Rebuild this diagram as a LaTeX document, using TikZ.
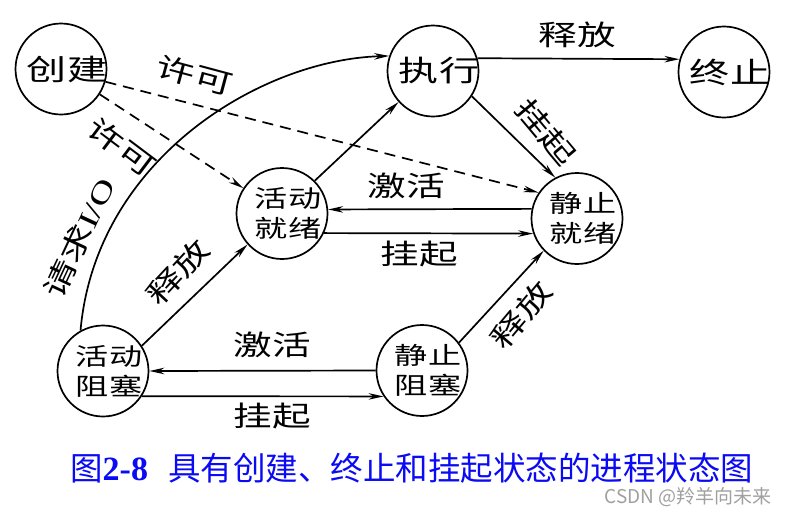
\documentclass[tikz,border=0pt]{standalone}
\usepackage{fontspec}
\setmainfont{Noto Sans CJK SC}
\newfontfamily\tnr{Liberation Serif}
\usetikzlibrary{arrows.meta}
\definecolor{capblue}{RGB}{10,10,245}
\definecolor{wmgray}{RGB}{160,160,160}
\newcommand{\wx}[1]{\scalebox{1.38}[1]{#1}}
\newcommand{\ct}[1]{\makebox[0pt]{\hspace*{12pt}\scalebox{1.38}[1]{#1}}}
\begin{document}
\begin{tikzpicture}[x=1pt,y=-1pt,
  state/.style={draw, circle, line width=1.7pt, minimum size=91pt, inner sep=0pt, align=center},
  big/.style={font=\fontsize{29}{30}\selectfont},
  small/.style={font=\fontsize{24}{30}\selectfont},
  lab/.style={font=\fontsize{28}{30}\selectfont, inner sep=0pt},
  arr/.style={line width=1.7pt, -{Stealth[length=15pt,width=6.5pt]}},
  dashln/.style={dash pattern=on 11pt off 7pt}
]
\useasboundingbox[fill=white] (0,0) rectangle (788,515);

% states
\node[state,big]   (cj) at (61,69)      {\ct{创建}};
\node[state,big]   (ex) at (433,71)     {\ct{执行}};
\node[state,big]   (zz) at (724,72)     {\ct{终止}};
\node[state,small] (hj) at (282,213.5)  {\ct{活动}\\\ct{就绪}};
\node[state,small] (jj) at (577,218.5)  {\ct{静止}\\\ct{就绪}};
\node[state,small] (hz) at (103,371)    {\ct{活动}\\\ct{阻塞}};
\node[state,small] (jz) at (422,370.5)  {\ct{静止}\\\ct{阻塞}};

% connectors
\draw[arr,dashln] (cj) -- (hj);
\draw[arr,dashln] (cj.-16) -- (jj.146);
\draw[arr] (ex.16) -- (zz.164);
\draw[arr] (ex.-33) -- (jj.118);
\draw[arr] (hj.45) -- (ex.222);
\draw[arr] (jj.168) -- (hj.5.7);
\draw[arr] (hj.-25.4) -- (jj.-161.4);
\draw[arr] (hz.33.7) -- (hj.222.6);
\draw[arr] (jz.180) -- (hz.0);
\draw[arr] (hz.-33) -- (jz.214);
\draw[arr] (jz.37.4) -- (jj.224.6);
\draw[arr] (hz.119) .. controls +(15,-170) and +(-130,4) .. (ex.161);

% labels
\node[lab] (l1) at (577,35) {\wx{释放}};
\node[lab,rotate=-50] (l2) at (546,132) {\wx{挂起}};
\node[lab,rotate=-15] (l3) at (195,75) {\wx{许可}};
\node[lab,rotate=-37] (l4) at (122,147) {\wx{许可}};
\node[lab] (l5) at (406,186) {\wx{激活}};
\node[lab] (l6) at (419,254) {\wx{挂起}};
\node[lab,rotate=47] (l7) at (178,272) {\wx{释放}};
\node[lab,rotate=50] (l8) at (521,315) {\wx{释放}};
\node[lab] (l9) at (272,345) {\wx{激活}};
\node[lab] (l10) at (272,416) {\wx{挂起}};
\node[lab,rotate=65] (l11) at (79,238) {\wx{请求{\tnr I/O}}};

% caption
\node[anchor=west, inner sep=0pt, text=capblue, font=\fontsize{32.5}{34}\selectfont] (cap) at (70,468)
  {图{\tnr\bfseries\fontsize{34}{34}\selectfont 2-8}\hspace{20pt}具有创建、终止和挂起状态的进程状态图};
\node[anchor=east, inner sep=0pt, text=wmgray, font=\fontsize{19}{20}\selectfont] (wm) at (772,497)
  {CSDN @羚羊向未来};
\end{tikzpicture}
\end{document}
